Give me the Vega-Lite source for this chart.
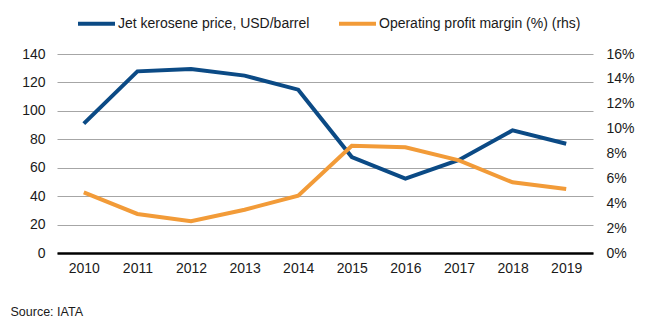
{
  "$schema": "https://vega.github.io/schema/vega-lite/v6.json",
  "width": 536,
  "height": 199,
  "autosize": {"type": "none"},
  "padding": {"left": 57, "top": 54, "right": 57, "bottom": 78},
  "background": "white",
  "config": {
    "font": "Liberation Sans",
    "view": {"stroke": null},
    "axis": {"labelFont": "Liberation Sans", "labelFontSize": 14, "labelColor": "#1a1a1a", "titleFont": "Liberation Sans"}
  },
  "data": {
    "values": [
      {"year": "2010", "series": "Jet kerosene price, USD/barrel", "price": 91.0},
      {"year": "2011", "series": "Jet kerosene price, USD/barrel", "price": 127.8},
      {"year": "2012", "series": "Jet kerosene price, USD/barrel", "price": 129.5},
      {"year": "2013", "series": "Jet kerosene price, USD/barrel", "price": 124.8},
      {"year": "2014", "series": "Jet kerosene price, USD/barrel", "price": 114.9},
      {"year": "2015", "series": "Jet kerosene price, USD/barrel", "price": 67.5},
      {"year": "2016", "series": "Jet kerosene price, USD/barrel", "price": 52.3},
      {"year": "2017", "series": "Jet kerosene price, USD/barrel", "price": 65.5},
      {"year": "2018", "series": "Jet kerosene price, USD/barrel", "price": 86.3},
      {"year": "2019", "series": "Jet kerosene price, USD/barrel", "price": 76.9},
      {"year": "2010", "series": "Operating profit margin (%) (rhs)", "margin": 4.88},
      {"year": "2011", "series": "Operating profit margin (%) (rhs)", "margin": 3.14},
      {"year": "2012", "series": "Operating profit margin (%) (rhs)", "margin": 2.55},
      {"year": "2013", "series": "Operating profit margin (%) (rhs)", "margin": 3.48},
      {"year": "2014", "series": "Operating profit margin (%) (rhs)", "margin": 4.61},
      {"year": "2015", "series": "Operating profit margin (%) (rhs)", "margin": 8.63},
      {"year": "2016", "series": "Operating profit margin (%) (rhs)", "margin": 8.50},
      {"year": "2017", "series": "Operating profit margin (%) (rhs)", "margin": 7.45},
      {"year": "2018", "series": "Operating profit margin (%) (rhs)", "margin": 5.68},
      {"year": "2019", "series": "Operating profit margin (%) (rhs)", "margin": 5.15}
    ]
  },
  "encoding": {
    "x": {
      "field": "year", "type": "ordinal",
      "scale": {"type": "point", "padding": 0.5},
      "axis": {
        "labelAngle": 0, "ticks": false, "domain": true, "domainColor": "#000000", "domainWidth": 2.5, "grid": false,
        "labelPadding": 8, "zindex": 1,
        "title": "Source: IATA", "titleX": -47, "titleY": 58, "titleAlign": "left",
        "titleBaseline": "middle", "titleFontSize": 12.5, "titleFontWeight": "normal", "titleColor": "#1a1a1a"
      }
    },
    "color": {
      "field": "series", "type": "nominal",
      "scale": {"domain": ["Jet kerosene price, USD/barrel", "Operating profit margin (%) (rhs)"], "range": ["#0b4a85", "#f29b38"]},
      "legend": {
        "orient": "none", "legendX": 19, "legendY": -51, "direction": "horizontal",
        "title": null, "symbolType": "stroke", "symbolSize": 1369, "symbolStrokeWidth": 4,
        "labelFontSize": 14, "labelFont": "Liberation Sans", "labelColor": "#1a1a1a", "labelOffset": 1,
        "columnPadding": 21, "labelLimit": 400
      }
    }
  },
  "layer": [
    {
      "mark": {"type": "line", "strokeWidth": 4},
      "transform": [{"filter": "datum.price != null"}],
      "encoding": {
        "y": {
          "field": "price", "type": "quantitative",
          "scale": {"domain": [0, 140], "nice": false},
          "axis": {"orient": "left", "values": [0, 20, 40, 60, 80, 100, 120, 140], "title": null, "ticks": false, "domain": false, "grid": true, "gridColor": "#a6a6a6", "gridWidth": 1, "labelPadding": 12}
        }
      }
    },
    {
      "mark": {"type": "line", "strokeWidth": 4},
      "transform": [{"filter": "datum.margin != null"}],
      "encoding": {
        "y": {
          "field": "margin", "type": "quantitative",
          "scale": {"domain": [0, 16], "nice": false},
          "axis": {"orient": "right", "values": [0, 2, 4, 6, 8, 10, 12, 14, 16], "labelExpr": "datum.value + '%'", "title": null, "ticks": false, "domain": false, "grid": false, "labelPadding": 13}
        }
      }
    }
  ],
  "resolve": {"scale": {"y": "independent"}, "axis": {"y": "independent"}}
}
